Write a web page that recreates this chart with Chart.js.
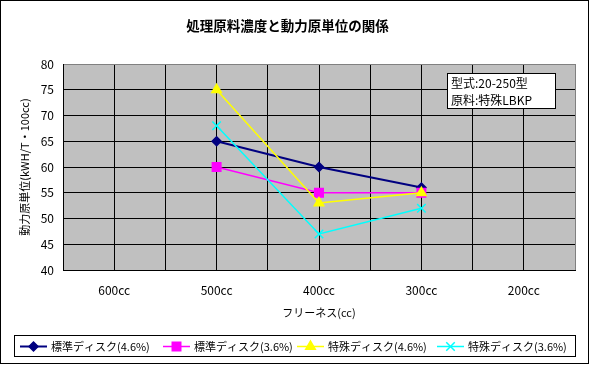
<!DOCTYPE html>
<html><head><meta charset="utf-8">
<script src="https://cdn.jsdelivr.net/npm/chart.js@4"></script>
<style>html,body{margin:0;padding:0;background:#fff}#wrap{width:590px;height:365px;position:relative}</style>
</head><body><div id="wrap"><canvas id="c"></canvas></div>
<script>
const categories = ['600cc', '500cc', '400cc', '300cc', '200cc'];
const seriesNames = ['標準ディスク(4.6%)', '標準ディスク(3.6%)', '特殊ディスク(4.6%)', '特殊ディスク(3.6%)'];
const std46 = [null, 65, 60, 56, null];
const std36 = [null, 60, 55, 55, null];
const spc46 = [null, 75, 53, 55, null];
const spc36 = [null, 68, 47, 52, null];
const yMin = 40, yMax = 80, yStep = 5;
const chartTitle = '処理原料濃度と動力原単位の関係';
const xTitle = 'フリーネス(cc)';
const yTitle = '動力原単位(kWH/T・100cc)';
const noteLines = ['型式:20-250型', '原料:特殊LBKP'];

const FONT = '"Noto Sans CJK JP", "Noto Sans", sans-serif';
const toPts = arr => arr.map((v, i) => ({ x: i, y: v }));

const styles = [
  { color: '#000080', style: 'rectRot', r: 4.5, bw: 2, order: 3 },
  { color: '#FF00FF', style: 'rect', r: 6, bw: 1.5, order: 2 },
  { color: '#FFFF00', style: 'triangle', r: 5.5, bw: 1.5, order: 1 },
  { color: '#00FFFF', style: 'crossRot', r: 6, bw: 1.5, order: 0 }
];
const seriesData = [std46, std36, spc46, spc36];

const datasets = seriesData.map((d, i) => ({
  label: seriesNames[i],
  data: toPts(d),
  borderColor: styles[i].color,
  backgroundColor: styles[i].color,
  pointBackgroundColor: styles[i].color,
  pointBorderColor: styles[i].color,
  pointStyle: styles[i].style,
  pointRadius: styles[i].r,
  pointBorderWidth: 1.5,
  borderWidth: styles[i].bw,
  order: styles[i].order,
  tension: 0,
  spanGaps: false
}));

const decor = {
  id: 'decor',
  beforeDraw(chart) {
    const { ctx, chartArea: a } = chart;
    ctx.save();
    ctx.fillStyle = '#fff';
    ctx.fillRect(0, 0, chart.width, chart.height);
    ctx.fillStyle = '#C0C0C0';
    ctx.fillRect(a.left, a.top, a.right - a.left, a.bottom - a.top);
    ctx.restore();
  },
  afterDraw(chart) {
    const { ctx } = chart;
    ctx.save();
    // outer border
    ctx.strokeStyle = '#000';
    ctx.lineWidth = 1;
    ctx.strokeRect(0.5, 0.5, 588, 363);
    // note box
    ctx.fillStyle = '#fff';
    ctx.fillRect(447, 73, 109, 36);
    ctx.strokeRect(447.5, 73.5, 108, 35);
    ctx.fillStyle = '#000';
    ctx.font = '12px ' + FONT;
    ctx.textBaseline = 'middle';
    ctx.textAlign = 'left';
    ctx.fillText(noteLines[0], 451, 83);
    ctx.fillText(noteLines[1], 451, 100);
    // legend
    ctx.strokeRect(14.5, 335.5, 561, 21);
    const lx = [20, 163, 297, 437];
    const ly = 346;
    chart.data.datasets.forEach((ds, i) => {
      const x = lx[i];
      ctx.strokeStyle = ds.borderColor;
      ctx.lineWidth = ds.borderWidth;
      ctx.beginPath();
      ctx.moveTo(x, ly + 0.5);
      ctx.lineTo(x + 27, ly + 0.5);
      ctx.stroke();
      ctx.fillStyle = ds.pointBackgroundColor;
      ctx.strokeStyle = ds.pointBorderColor;
      ctx.lineWidth = 1.5;
      if (Chart.helpers && Chart.helpers.drawPoint) {
        Chart.helpers.drawPoint(ctx, { pointStyle: ds.pointStyle, rotation: 0, radius: ds.pointRadius, borderWidth: 1.5 }, x + 13.5, ly + 0.5);
      }
      ctx.fillStyle = '#000';
      ctx.font = '11px ' + FONT;
      ctx.textBaseline = 'middle';
      ctx.fillText(ds.label, x + 31, ly + 1);
    });
    ctx.restore();
  }
};

new Chart(document.getElementById('c'), {
  type: 'line',
  data: { datasets },
  options: {
    responsive: true,
    maintainAspectRatio: false,
    animation: false,
    layout: { padding: { left: 0, right: 15, top: 0, bottom: 43 } },
    plugins: {
      legend: { display: false },
      tooltip: { enabled: false },
      title: {
        display: true,
        text: chartTitle,
        color: '#000',
        font: { family: FONT, size: 13.5, weight: 'bold', lineHeight: 1.2 },
        padding: { top: 18, bottom: 29.8 }
      }
    },
    scales: {
      x: {
        type: 'linear',
        min: -0.5,
        max: categories.length - 0.5,
        afterBuildTicks(scale) {
          const t = [];
          for (let v = -0.5; v <= categories.length - 0.5 + 1e-9; v += 0.5) t.push({ value: v });
          scale.ticks = t;
        },
        afterFit(scale) { scale.height = 52; },
        ticks: {
          autoSkip: false,
          maxRotation: 0,
          padding: 13,
          color: '#000',
          font: { family: FONT, size: 12 },
          callback: v => Number.isInteger(v) ? categories[v] : ''
        },
        grid: {
          drawTicks: false,
          lineWidth: 1,
          color: c => (c.tick && c.tick.value === categories.length - 0.5) ? '#808080' : '#000'
        },
        border: { display: true, color: '#000', width: 1 },
        title: {
          display: true,
          text: xTitle,
          color: '#000',
          font: { family: FONT, size: 11, lineHeight: 1.2 },
          padding: { top: 0, bottom: 2.4 }
        }
      },
      y: {
        min: yMin,
        max: yMax,
        afterFit(scale) { scale.width = 63; },
        ticks: {
          stepSize: yStep,
          padding: 9,
          color: '#000',
          font: { family: FONT, size: 12 }
        },
        grid: {
          drawTicks: false,
          lineWidth: 1,
          color: c => (c.tick && c.tick.value === yMax) ? '#808080' : '#000'
        },
        border: { display: true, color: '#000', width: 1 },
        title: {
          display: true,
          text: yTitle,
          color: '#000',
          font: { family: FONT, size: 11, lineHeight: 1.2 },
          padding: { top: 18.4, bottom: 0 }
        }
      }
    }
  },
  plugins: [decor]
});
</script>
</body></html>
